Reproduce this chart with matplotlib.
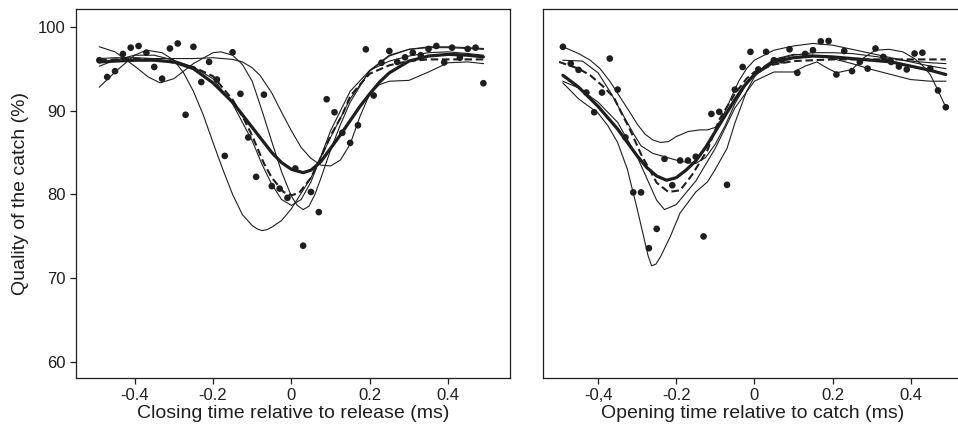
import matplotlib
matplotlib.use("Agg")
import matplotlib.pyplot as plt

plt.rcParams['font.family'] = ['Liberation Sans', 'DejaVu Sans']

# sample times (ms) of the measured points, same for both panels
times = [-0.49, -0.47, -0.45, -0.43, -0.41, -0.39, -0.37, -0.35, -0.33, -0.31,
         -0.29, -0.27, -0.25, -0.23, -0.21, -0.19, -0.17, -0.15, -0.13, -0.11,
         -0.09, -0.07, -0.05, -0.03, -0.01, 0.01, 0.03, 0.05, 0.07, 0.09,
         0.11, 0.13, 0.15, 0.17, 0.19, 0.21, 0.23, 0.25, 0.27, 0.29,
         0.31, 0.33, 0.35, 0.37, 0.39, 0.41, 0.43, 0.45, 0.47, 0.49]

# ---- left panel: closing time ----
closing_pts = [96.0, 94.0, 94.7, 96.75, 97.5, 97.7, 96.9, 95.2, 93.8, 97.4,
               98.0, 89.5, 97.6, 93.4, 95.8, 93.7, 84.6, 96.95, 92.0, 86.8,
               82.1, 91.9, 81.0, 80.7, 79.6, 83.1, 73.9, 80.3, 77.9, 91.35,
               89.8, 87.35, 86.15, 88.25, 97.3, 91.8, 95.7, 97.1, 95.8, 96.35,
               96.9, 96.6, 97.35, 97.7, 95.75, 97.5, 96.3, 97.35, 97.5, 93.26]

cl_mean_x = [-0.49, -0.45, -0.40, -0.35, -0.30, -0.25, -0.20, -0.15, -0.10, -0.05,
             -0.025, 0.00, 0.03, 0.05, 0.075, 0.10, 0.125, 0.15, 0.175, 0.20,
             0.225, 0.25, 0.30, 0.35, 0.40, 0.45, 0.49]
cl_mean_y = [95.8, 95.9, 96.0, 96.0, 95.8, 95.0, 93.3, 91.0, 88.0, 85.0,
             83.8, 83.0, 82.6, 82.9, 83.9, 85.5, 87.1, 88.8, 90.5, 92.0,
             93.4, 94.5, 95.9, 96.5, 96.7, 96.6, 96.4]

cl_dash_x = [-0.49, -0.45, -0.40, -0.35, -0.30, -0.25, -0.20, -0.15, -0.12, -0.10,
             -0.07, -0.05, -0.02, 0.00, 0.02, 0.05, 0.08, 0.10, 0.13, 0.15,
             0.175, 0.20, 0.25, 0.30, 0.35, 0.40, 0.45, 0.49]
cl_dash_y = [96.0, 96.1, 96.2, 96.1, 95.7, 95.2, 94.1, 91.3, 88.9, 87.0,
             83.7, 82.0, 80.3, 79.9, 80.2, 82.0, 84.9, 87.0, 89.5, 91.7,
             93.1, 94.4, 95.4, 95.9, 96.1, 96.1, 96.1, 96.1]

cl_s1_x = [-0.49, -0.45, -0.40, -0.37, -0.33, -0.30, -0.275, -0.25, -0.225, -0.20,
           -0.175, -0.15, -0.125, -0.10, -0.0875, -0.075, -0.0625, -0.05, -0.025, 0.00,
           0.05, 0.10, 0.15, 0.20, 0.25, 0.30, 0.35, 0.40, 0.45, 0.49]
cl_s1_y = [92.8, 94.6, 96.6, 97.2, 96.9, 96.0, 94.5, 92.3, 89.5, 86.2,
           83.0, 80.0, 77.6, 76.3, 75.9, 75.7, 75.8, 76.1, 76.9, 78.3,
           82.0, 86.8, 91.4, 94.7, 96.5, 97.3, 97.6, 97.6, 97.5, 97.4]

cl_s2_x = [-0.49, -0.45, -0.40, -0.365, -0.335, -0.30, -0.25, -0.20, -0.18, -0.15,
           -0.125, -0.10, -0.075, -0.05, -0.025, 0.00, 0.015, 0.03, 0.045, 0.06,
           0.075, 0.10, 0.125, 0.15, 0.20, 0.25, 0.30, 0.35, 0.40, 0.45, 0.49]
cl_s2_y = [97.6, 97.0, 95.3, 94.0, 93.3, 93.8, 95.6, 96.9, 97.0, 96.6,
           95.5, 93.5, 90.0, 86.3, 82.7, 79.8, 78.7, 78.2, 78.6, 80.0,
           81.9, 85.3, 88.3, 91.0, 94.8, 96.6, 97.3, 97.5, 97.5, 97.4, 97.3]

cl_s3_x = [-0.49, -0.45, -0.40, -0.35, -0.30, -0.25, -0.20, -0.15, -0.125, -0.10,
           -0.08, -0.05, -0.025, 0.00, 0.025, 0.05, 0.075, 0.10, 0.125, 0.15,
           0.175, 0.20, 0.225, 0.25, 0.30, 0.35, 0.40, 0.45, 0.49]
cl_s3_y = [96.2, 96.3, 96.3, 96.2, 96.2, 96.2, 96.3, 96.1, 95.8, 95.1,
           94.2, 92.1, 89.8, 87.6, 85.6, 84.3, 83.5, 83.4, 84.1, 86.0,
           89.3, 92.0, 93.1, 93.5, 93.6, 94.6, 95.7, 95.8, 95.6]

cl_s4_x = [-0.49, -0.45, -0.40, -0.35, -0.30, -0.25, -0.20, -0.15, -0.10, -0.075,
           -0.05, -0.025, 0.00, 0.025, 0.05, 0.075, 0.10, 0.15, 0.20, 0.25,
           0.30, 0.35, 0.40, 0.45, 0.49]
cl_s4_y = [95.3, 96.0, 96.6, 96.6, 96.0, 95.2, 93.8, 90.8, 86.4, 83.6,
           81.2, 79.4, 78.7, 79.4, 81.5, 84.5, 87.6, 92.3, 94.8, 95.9,
           96.5, 96.9, 97.0, 96.8, 96.6]

# ---- right panel: opening time ----
opening_pts = [97.6, 95.6, 94.85, 92.15, 89.8, 92.15, 96.2, 92.5, 86.8, 80.25,
               80.25, 73.6, 75.9, 84.25, 81.1, 84.05, 84.05, 84.5, 75.0, 89.6,
               89.85, 81.15, 92.5, 95.2, 97.0, 94.9, 97.0, 96.0, 96.0, 97.3,
               94.5, 96.75, 97.2, 98.25, 98.3, 94.3, 97.1, 94.7, 95.8, 95.0,
               97.4, 96.4, 95.8, 95.25, 94.9, 96.8, 96.9, 95.0, 92.4, 90.4]

op_mean_x = [-0.49, -0.45, -0.40, -0.35, -0.30, -0.275, -0.25, -0.225, -0.20, -0.175,
             -0.15, -0.125, -0.10, -0.075, -0.05, -0.025, 0.00, 0.05, 0.10, 0.15,
             0.20, 0.25, 0.30, 0.35, 0.40, 0.45, 0.49]
op_mean_y = [94.2, 92.8, 90.5, 87.8, 84.6, 83.2, 82.2, 81.7, 82.0, 82.9,
             84.0, 85.6, 87.5, 89.4, 91.3, 93.0, 94.3, 95.8, 96.3, 96.5,
             96.4, 96.2, 96.0, 95.8, 95.3, 94.8, 94.3]

op_dash_x = [-0.50, -0.45, -0.42, -0.39, -0.36, -0.34, -0.32, -0.29, -0.25, -0.22,
             -0.19, -0.16, -0.12, -0.09, -0.05, -0.02, 0.00, 0.05, 0.10, 0.15,
             0.20, 0.30, 0.40, 0.49]
op_dash_y = [95.8, 95.0, 94.2, 93.0, 91.6, 89.7, 87.9, 84.8, 81.4, 80.3,
             80.5, 82.3, 85.3, 88.9, 92.0, 93.8, 94.6, 95.5, 95.9, 96.0,
             96.1, 96.1, 96.1, 96.1]

op_s1_x = [-0.49, -0.45, -0.40, -0.375, -0.35, -0.325, -0.30, -0.285, -0.272, -0.263,
           -0.252, -0.24, -0.215, -0.19, -0.15, -0.12, -0.10, -0.07, -0.05, -0.02,
           0.00, 0.025, 0.05, 0.10, 0.15, 0.20, 0.25, 0.30, 0.35, 0.40,
           0.45, 0.49]
op_s1_y = [93.3, 91.4, 89.7, 88.2, 86.2, 83.0, 78.3, 75.3, 72.7, 71.5,
           71.7, 72.6, 75.0, 77.8, 80.3, 81.5, 83.0, 85.5, 88.5, 92.3,
           94.0, 95.3, 96.1, 96.7, 96.6, 96.2, 95.6, 94.9, 94.3, 93.7,
           93.5, 93.5]

op_s2_x = [-0.49, -0.45, -0.40, -0.35, -0.30, -0.25, -0.23, -0.20, -0.15, -0.10,
           -0.05, 0.00, 0.05, 0.10, 0.13, 0.16, 0.185, 0.21, 0.25, 0.28,
           0.31, 0.345, 0.38, 0.41, 0.43, 0.45, 0.47, 0.49]
op_s2_y = [93.5, 92.7, 91.0, 88.6, 84.5, 79.3, 78.2, 78.8, 81.6, 85.5,
           90.3, 93.5, 94.6, 94.6, 95.3, 95.8, 95.1, 94.5, 94.9, 96.3,
           97.2, 97.3, 97.0, 96.2, 95.4, 94.3, 92.4, 90.4]

op_s3_x = [-0.49, -0.45, -0.42, -0.395, -0.37, -0.345, -0.32, -0.30, -0.28, -0.26,
           -0.24, -0.22, -0.20, -0.17, -0.14, -0.12, -0.10, -0.085, -0.07, -0.055,
           -0.04, -0.02, 0.00, 0.05, 0.10, 0.15, 0.20, 0.25, 0.30, 0.35,
           0.40, 0.45, 0.49]
op_s3_y = [97.6, 96.8, 96.0, 95.0, 93.5, 91.7, 89.9, 88.4, 87.2, 86.5,
           86.2, 86.3, 86.9, 87.5, 87.7, 87.7, 88.0, 88.9, 90.4, 92.0,
           93.5, 95.0, 96.0, 97.2, 97.7, 98.0, 97.8, 97.3, 96.8, 96.3,
           95.8, 95.3, 95.0]

op_s4_x = [-0.49, -0.44, -0.40, -0.37, -0.34, -0.31, -0.29, -0.26, -0.23, -0.20,
           -0.17, -0.15, -0.125, -0.10, -0.075, -0.05, -0.025, 0.00, 0.05, 0.10,
           0.15, 0.20, 0.25, 0.30, 0.35, 0.40, 0.45, 0.49]
op_s4_y = [96.0, 95.9, 94.5, 92.3, 89.8, 87.3, 85.8, 84.9, 84.5, 84.1,
           83.8, 83.7, 84.4, 86.0, 88.2, 90.8, 92.8, 94.3, 96.0, 96.6,
           96.9, 96.9, 96.8, 96.5, 96.2, 95.9, 95.7, 95.6]

ticks = [-0.4, -0.2, 0, 0.2, 0.4]
closing_ticklabels = ['-0.4', '-0.2', '0', '0.2', '0.4']
opening_ticklabels = ['-0,4', '-0.2', '0', '0.2', '0.4']

ink = '#1e1e1e'
fig = plt.figure(figsize=(9.58, 4.29), dpi=100)
ax1 = fig.add_axes([0.0793, 0.1189, 0.4531, 0.8594])
# right panel runs off the right edge of the picture, like the original
ax2 = fig.add_axes([0.5668, 0.1189, 0.4372, 0.8594])


def draw_panel(ax, pts, mean, dash, singles):
    for sx, sy in singles:
        ax.plot(sx, sy, color=ink, lw=0.8, zorder=2)
    ax.plot(dash[0], dash[1], color=ink, lw=1.5, ls=(0, (3.6, 1.8)), zorder=3)
    ax.plot(mean[0], mean[1], color=ink, lw=2.3, zorder=4,
            solid_capstyle='round', solid_joinstyle='round')
    ax.scatter(times, pts, s=23, color=ink, edgecolors='none', zorder=5)
    ax.set_ylim(58.13, 102.07)
    ax.set_xticks(ticks)
    for sp in ax.spines.values():
        sp.set_linewidth(0.9)
        sp.set_color(ink)
    ax.tick_params(direction='out', length=4.5, width=0.9, color=ink,
                   labelsize=12, labelcolor=ink, pad=3)


draw_panel(ax1, closing_pts, (cl_mean_x, cl_mean_y), (cl_dash_x, cl_dash_y),
           [(cl_s1_x, cl_s1_y), (cl_s2_x, cl_s2_y), (cl_s3_x, cl_s3_y), (cl_s4_x, cl_s4_y)])
draw_panel(ax2, opening_pts, (op_mean_x, op_mean_y), (op_dash_x, op_dash_y),
           [(op_s1_x, op_s1_y), (op_s2_x, op_s2_y), (op_s3_x, op_s3_y), (op_s4_x, op_s4_y)])

ax1.set_xlim(-0.5497, 0.558)
ax1.set_yticks([60, 70, 80, 90, 100])
ax1.set_xticklabels(closing_ticklabels)
ax1.set_xlabel('Closing time relative to release (ms)', fontsize=14, color=ink, labelpad=1)
ax1.set_ylabel('Quality of the catch (%)', fontsize=14, color=ink, labelpad=6)

ax2.set_xlim(-0.541, 0.531)
ax2.set_yticks([])
ax2.set_xticklabels(opening_ticklabels)
ax2.set_xlabel('Opening time relative to catch (ms)', fontsize=14, color=ink, labelpad=1)

fig.savefig('out.png', dpi=100)
